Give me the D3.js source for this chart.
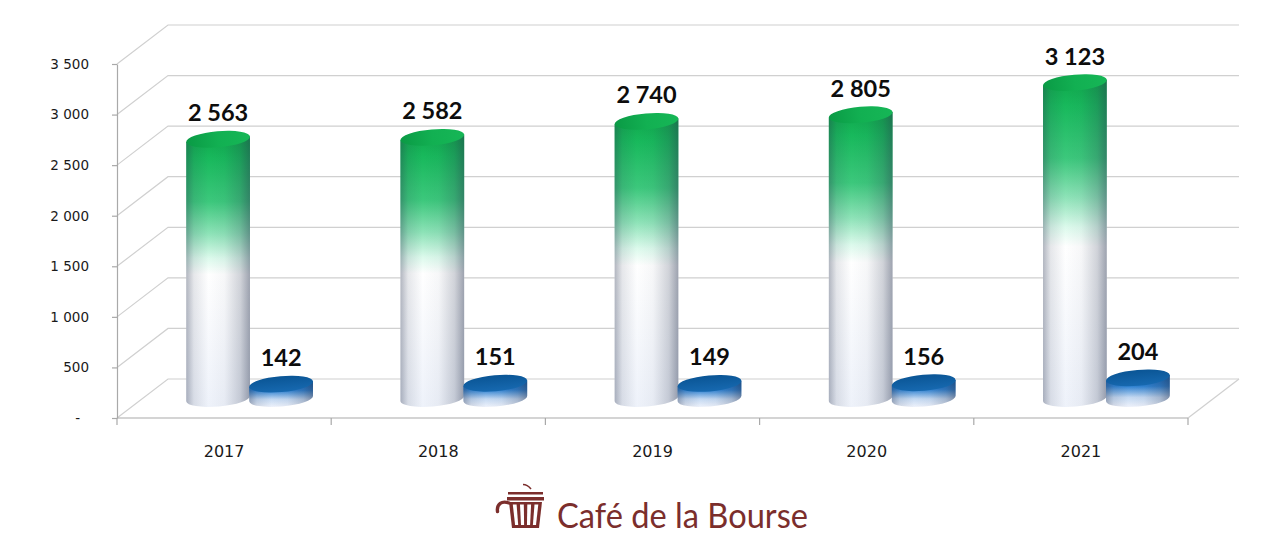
<!DOCTYPE html>
<meta charset="utf-8">
<style>
body { margin: 0; background: #fff; }
.grid { fill: none; stroke: #d0d0d0; stroke-width: 1.2; }
.axis path, .axis line { stroke: #a9a9a9; stroke-width: 1.2; }
.y.axis text { font-family: "DejaVu Sans"; font-size: 13.5px; fill: #1a1a1a; }
.x.axis text { font-family: "DejaVu Sans"; font-size: 16px; fill: #1a1a1a; }
.value { font-family: Lato; font-weight: bold; font-size: 23.5px; fill: #0d0d0d; text-anchor: middle; }
.brand { font-family: Lato; font-size: 34px; fill: #7b2e2c; }
</style>
<body></body>
<script src="https://cdn.jsdelivr.net/npm/d3@7"></script>
<script>

// data
var years = ["2017", "2018", "2019", "2020", "2021"];
var greenValues = [2563, 2582, 2740, 2805, 3123];
var blueValues = [142, 151, 149, 156, 204];
var yTicks = [0, 500, 1000, 1500, 2000, 2500, 3000, 3500];
var brandName = "Café de la Bourse";

var width = 1280, height = 548;
var depth = {x: 51, y: -39};   // offset front plane -> back wall
var rx = 32, ry = 8, tilt = -5;

var svg = d3.select("body").append("svg")
    .attr("width", width)
    .attr("height", height);

var xScale = d3.scaleBand().domain(years).range([117, 1188]);
var yScale = d3.scaleLinear().domain([0, 3500]).range([418, 64]);

var fmt = function(d) { return d === 0 ? "-" : d3.format(",")(d).replace(",", " "); };

// ---- gradients
var defs = svg.append("defs");
function grad(id, stops, x2, y2) {
  var g = defs.append("linearGradient").attr("id", id)
      .attr("x1", 0).attr("y1", 0).attr("x2", x2).attr("y2", y2);
  stops.forEach(function(s) {
    g.append("stop").attr("offset", s[0]).attr("stop-color", s[1])
      .attr("stop-opacity", s.length > 2 ? s[2] : 1);
  });
}
grad("greenBody", [[0, "#0fa84c"], [0.08, "#18b95c"], [0.24, "#3cc87c"], [0.36, "#8ee3b8"],
                   [0.45, "#dcfaec"], [0.51, "#ffffff"], [1, "#eef2fa"]], 0, 1);
grad("blueBody", [[0, "#1263b2"], [0.35, "#2f82d2"], [0.7, "#c4d9f2"], [1, "#eef2fb"]], 0, 1);
grad("shade", [[0, "#2a3550", 0.36], [0.12, "#2a3550", 0.12], [0.35, "#2a3550", 0],
               [0.6, "#2a3550", 0.04], [0.85, "#2a3550", 0.22], [1, "#2a3550", 0.46]], 1, 0);
grad("greenTop", [[0, "#0a9a45"], [0.5, "#12b052"], [1, "#16b656"]], 1, 0);
grad("blueTop", [[0, "#0a5595"], [1, "#1769b0"]], 0, 1);

// ---- back wall / side wall grid
var grid = svg.append("g");
yTicks.forEach(function(v) {
  var y = yScale(v);
  grid.append("path").attr("class", "grid")
      .attr("d", "M" + xScale.range()[0] + "," + y + "L" + (xScale.range()[0] + depth.x) + "," + (y + depth.y) +
                 "H" + (xScale.range()[1] + depth.x));
});
// floor right edge
grid.append("path").attr("class", "grid")
    .attr("d", "M" + xScale.range()[1] + "," + yScale(0) + "l" + depth.x + "," + depth.y);

// ---- y axis
var yAxis = svg.append("g")
    .attr("class", "y axis")
    .attr("transform", "translate(" + xScale.range()[0] + ",0)")
    .call(d3.axisLeft(yScale).tickValues(yTicks).tickSize(5).tickSizeOuter(0)
          .tickPadding(23).tickFormat(fmt));
yAxis.selectAll(".tick text").filter(function(d) { return d === 0; })
    .attr("dx", -9);

// ---- x axis (labels at band centres, ticks at band edges)
var xAxis = svg.append("g")
    .attr("class", "x axis")
    .attr("transform", "translate(0," + yScale(0) + ")")
    .call(d3.axisBottom(xScale).tickSize(0).tickPadding(28));
xAxis.select(".domain").remove();
xAxis.append("line").attr("x1", xScale.range()[0]).attr("x2", xScale.range()[1]);
xAxis.selectAll(".edge")
    .data(years.map(function(d) { return xScale(d); }).concat([xScale.range()[1]]))
  .enter().append("line")
    .attr("x1", function(d) { return d; }).attr("x2", function(d) { return d; })
    .attr("y1", 0).attr("y2", 7);

// ---- cylinders
var rad = tilt * Math.PI / 180;
var ex = rx * Math.cos(rad), ey = rx * Math.sin(rad);

function cylinder(g, cx, value, body, top) {
  var base = yScale(0) + depth.y / 2;
  var yt = yScale(value) + depth.y / 2;
  var d = "M" + (cx - ex) + "," + (yt - ey) +
          "L" + (cx - ex) + "," + (base - ey) +
          "A" + rx + "," + ry + " " + tilt + " 0 0 " + (cx + ex) + "," + (base + ey) +
          "L" + (cx + ex) + "," + (yt + ey) + "Z";
  g.append("path").attr("d", d).attr("fill", "url(#" + body + ")");
  g.append("path").attr("d", d).attr("fill", "url(#shade)");
  g.append("ellipse")
      .attr("cx", cx).attr("cy", yt).attr("rx", rx).attr("ry", ry)
      .attr("transform", "rotate(" + tilt + "," + cx + "," + yt + ")")
      .attr("fill", "url(#" + top + ")");
  g.append("text").attr("class", "value")
      .attr("x", cx).attr("y", yt - ry - 10)
      .text(fmt(value));
}

var bars = svg.append("g");
years.forEach(function(yr, i) {
  var c = xScale(yr) + xScale.bandwidth() / 2 + depth.x / 2;
  cylinder(bars, c - 31.5, greenValues[i], "greenBody", "greenTop");
  cylinder(bars, c + 31.5, blueValues[i], "blueBody", "blueTop");
});

// ---- logo
var logo = svg.append("g").attr("fill", "#7b2e2c").attr("stroke", "#7b2e2c");
logo.append("path").attr("fill", "none").attr("stroke-width", 1.6)
    .attr("d", "M523,484.5 C526,484.5 529,486.5 531,489");
logo.append("rect").attr("stroke", "none").attr("x", 508).attr("y", 492).attr("width", 35).attr("height", 2.5);
logo.append("rect").attr("stroke", "none").attr("x", 507).attr("y", 497).attr("width", 37).attr("height", 3.5);
logo.append("path").attr("stroke", "none").attr("d", "M509,502 L542,502 L539,528 L512,528 Z");
[[512.8, 516.6], [520, 523.8], [527.3, 531.1], [534.5, 538.3]].forEach(function(g) {
  var k = 0.82, m = 525.5;
  logo.append("path").attr("stroke", "none").attr("fill", "#fff")
      .attr("d", "M" + g[0] + ",504.5 L" + g[1] + ",504.5 L" + (m + (g[1] - m) * k) + ",525 L" + (m + (g[0] - m) * k) + ",525 Z");
});
logo.append("path").attr("fill", "none").attr("stroke-width", 3.4).attr("stroke-linecap", "round")
    .attr("d", "M509,503 C502,500.5 496.5,503.5 497.5,511.5");
svg.append("text").attr("class", "brand")
    .attr("x", 557).attr("y", 528)
    .attr("textLength", 251).attr("lengthAdjust", "spacingAndGlyphs")
    .text(brandName);

</script>
